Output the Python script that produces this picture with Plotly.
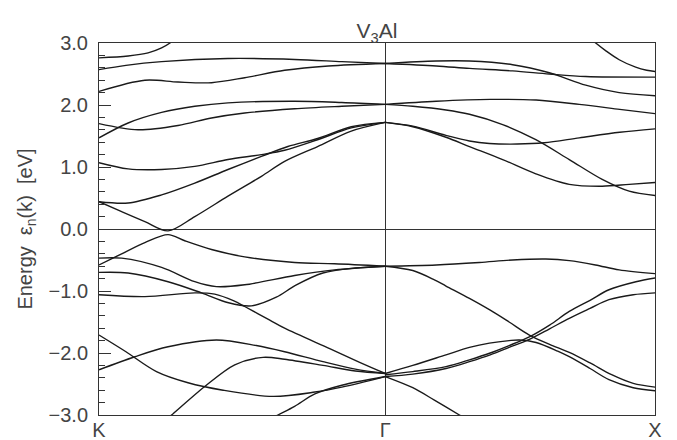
import plotly.graph_objects as go

# High-symmetry points (path length units)
k_points = [0.0, 1.0607, 2.0607]
k_labels = ["K", "Γ", "X"]

# ---- Bands, K -> Γ segment ----
L1_k = [0, 0.108, 0.182, 0.232, 0.263, 0.285]
L1_E = [2.76, 2.79, 2.84, 2.92, 3.0, 3.08]
L2_k = [0, 0.10, 0.232, 0.478, 0.725, 0.90, 1.061]
L2_E = [2.57, 2.64, 2.70, 2.75, 2.735, 2.70, 2.67]
L3_k = [0, 0.170, 0.293, 0.417, 0.540, 0.688, 0.85, 1.061]
L3_E = [2.22, 2.40, 2.37, 2.36, 2.44, 2.56, 2.63, 2.67]
L4_k = [0, 0.108, 0.232, 0.355, 0.478, 0.725, 0.90, 1.061]
L4_E = [1.47, 1.71, 1.88, 1.98, 2.035, 2.06, 2.04, 2.01]
L5_k = [0, 0.145, 0.293, 0.417, 0.540, 0.725, 0.90, 1.061]
L5_E = [1.70, 1.60, 1.67, 1.79, 1.87, 1.94, 1.98, 2.01]
L6_k = [0, 0.108, 0.232, 0.355, 0.478, 0.602, 0.688, 0.81, 0.935, 1.061]
L6_E = [1.07, 0.97, 0.96, 1.01, 1.12, 1.20, 1.27, 1.44, 1.63, 1.72]
L7_k = [0, 0.108, 0.232, 0.355, 0.478, 0.602, 0.70, 0.81, 0.935, 1.061]
L7_E = [0.44, 0.42, 0.55, 0.74, 0.96, 1.17, 1.33, 1.46, 1.65, 1.72]
L8_k = [0, 0.084, 0.170, 0.256, 0.355, 0.478, 0.602, 0.688, 0.81, 0.935, 1.061]
L8_E = [0.44, 0.28, 0.12, -0.03, 0.20, 0.53, 0.85, 1.09, 1.33, 1.58, 1.72]
La_k = [0, 0.084, 0.170, 0.256, 0.318, 0.417, 0.540, 0.725, 0.873, 1.061]
La_E = [-0.58, -0.40, -0.22, -0.09, -0.19, -0.33, -0.45, -0.54, -0.56, -0.60]
Lb_k = [0, 0.084, 0.232, 0.355, 0.435, 0.540, 0.725, 0.873, 1.061]
Lb_E = [-0.47, -0.47, -0.62, -0.85, -0.93, -0.90, -0.75, -0.66, -0.60]
Lc_k = [0, 0.108, 0.256, 0.380, 0.48, 0.565, 0.657, 0.728, 0.830, 0.95, 1.061]
Lc_E = [-0.70, -0.71, -0.85, -1.03, -1.19, -1.24, -1.10, -0.91, -0.71, -0.63, -0.60]
Ld_k = [0, 0.170, 0.355, 0.429, 0.50, 0.540, 0.633, 0.688, 0.855, 0.966, 1.061]
Ld_E = [-1.06, -1.09, -1.03, -1.05, -1.16, -1.25, -1.47, -1.60, -1.93, -2.15, -2.33]
Le_k = [0, 0.1, 0.213, 0.33, 0.46, 0.645, 0.80, 0.90, 1.061]
Le_E = [-1.71, -1.98, -2.30, -2.48, -2.60, -2.70, -2.63, -2.55, -2.38]
Lf_k = [0.62, 0.663, 0.725, 0.80, 0.90, 1.061]
Lf_E = [-3.10, -3.0, -2.86, -2.66, -2.52, -2.38]
Lg_k = [0, 0.133, 0.256, 0.435, 0.583, 0.688, 0.83, 0.95, 1.061]
Lg_E = [-2.27, -2.06, -1.90, -1.79, -1.88, -1.98, -2.14, -2.26, -2.33]
Lh_k = [0.245, 0.269, 0.392, 0.503, 0.608, 0.688, 0.83, 0.95, 1.061]
Lh_E = [-3.09, -3.0, -2.54, -2.19, -2.07, -2.10, -2.20, -2.29, -2.33]

# ---- Bands, Γ -> X segment ----
RA_k = [1.061, 1.25, 1.373, 1.533, 1.669, 1.804, 1.928, 2.061]
RA_E = [2.67, 2.71, 2.71, 2.65, 2.52, 2.32, 2.20, 2.15]
RB_k = [1.061, 1.25, 1.373, 1.533, 1.669, 1.804, 2.061]
RB_E = [2.67, 2.63, 2.59, 2.55, 2.50, 2.46, 2.45]
RC_k = [1.825, 1.841, 1.88, 1.928, 1.989, 2.03, 2.061]
RC_E = [3.06, 3.0, 2.87, 2.73, 2.61, 2.56, 2.54]
RD_k = [1.061, 1.25, 1.45, 1.62, 1.78, 1.93, 2.061]
RD_E = [2.01, 2.06, 2.09, 2.08, 2.01, 1.93, 1.86]
RE_k = [1.061, 1.163, 1.286, 1.373, 1.496, 1.619, 1.743, 1.865, 1.965, 2.061]
RE_E = [2.01, 1.98, 1.92, 1.85, 1.685, 1.44, 1.12, 0.80, 0.61, 0.54]
RP_k = [1.061, 1.163, 1.286, 1.373, 1.447, 1.55, 1.65, 1.78, 1.93, 2.061]
RP_E = [1.72, 1.66, 1.51, 1.42, 1.38, 1.37, 1.39, 1.47, 1.56, 1.615]
RQ_k = [1.061, 1.163, 1.286, 1.373, 1.496, 1.619, 1.743, 1.865, 1.965, 2.061]
RQ_E = [1.72, 1.65, 1.48, 1.33, 1.12, 0.89, 0.72, 0.69, 0.72, 0.75]
RF_k = [1.061, 1.25, 1.41, 1.533, 1.656, 1.743, 1.84, 1.928, 2.061]
RF_E = [-0.60, -0.58, -0.54, -0.50, -0.485, -0.51, -0.58, -0.66, -0.72]
RG_k = [1.061, 1.163, 1.243, 1.286, 1.373, 1.45, 1.52, 1.595, 1.67, 1.743, 1.82, 1.90, 1.98, 2.061]
RG_E = [-0.60, -0.67, -0.82, -0.92, -1.12, -1.31, -1.50, -1.71, -1.86, -1.99, -2.16, -2.35, -2.49, -2.55]
R1_k = [1.061, 1.163, 1.286, 1.373, 1.447, 1.52, 1.558, 1.62, 1.70, 1.743, 1.82, 1.89, 1.98, 2.061]
R1_E = [-2.33, -2.20, -2.03, -1.91, -1.84, -1.80, -1.79, -1.83, -1.97, -2.06, -2.25, -2.43, -2.56, -2.61]
R2_k = [1.061, 1.163, 1.286, 1.373, 1.45, 1.52, 1.595, 1.67, 1.743, 1.82, 1.89, 1.99, 2.061]
R2_E = [-2.35, -2.30, -2.22, -2.11, -2.00, -1.88, -1.74, -1.55, -1.33, -1.15, -0.98, -0.85, -0.79]
R3_k = [1.061, 1.163, 1.286, 1.373, 1.45, 1.52, 1.595, 1.67, 1.743, 1.82, 1.89, 1.98, 2.061]
R3_E = [-2.38, -2.34, -2.25, -2.14, -2.03, -1.91, -1.78, -1.61, -1.44, -1.28, -1.14, -1.06, -1.03]
R4_k = [1.061, 1.163, 1.243, 1.336, 1.36]
R4_E = [-2.38, -2.56, -2.76, -3.0, -3.06]

bands = [
    (L1_k, L1_E), (L2_k, L2_E), (L3_k, L3_E), (L4_k, L4_E), (L5_k, L5_E),
    (L6_k, L6_E), (L7_k, L7_E), (L8_k, L8_E), (La_k, La_E), (Lb_k, Lb_E),
    (Lc_k, Lc_E), (Ld_k, Ld_E), (Le_k, Le_E), (Lf_k, Lf_E), (Lg_k, Lg_E),
    (Lh_k, Lh_E),
    (RA_k, RA_E), (RB_k, RB_E), (RC_k, RC_E), (RD_k, RD_E), (RE_k, RE_E),
    (RP_k, RP_E), (RQ_k, RQ_E), (RF_k, RF_E), (RG_k, RG_E), (R1_k, R1_E),
    (R2_k, R2_E), (R3_k, R3_E), (R4_k, R4_E),
]

fig = go.Figure()
for kk, ee in bands:
    fig.add_trace(go.Scatter(
        x=kk, y=ee, mode="lines",
        line=dict(color="#1a1a1a", width=1.4, shape="spline", smoothing=0.9),
        hoverinfo="skip", showlegend=False,
    ))

font_fam = "Liberation Sans, Arial, Helvetica, sans-serif"
text_col = "#444444"
axis_col = "#333333"

# page body has an 8px default margin; size/margins compensate for it
fig.update_layout(
    width=669, height=432,
    margin=dict(l=91, r=22, t=35, b=25),
    paper_bgcolor="white", plot_bgcolor="white",
    font=dict(family=font_fam, size=20, color=text_col),
    title=dict(text="V<sub>3</sub>Al", x=0.5, xref="paper",
               y=1 - 23 / 432, yref="container", yanchor="middle",
               font=dict(size=21, color=text_col)),
    showlegend=False,
)
fig.update_xaxes(
    range=[k_points[0], k_points[-1]],
    tickmode="array", tickvals=k_points, ticktext=k_labels,
    ticks="", showgrid=True, gridcolor=axis_col, gridwidth=1,
    showline=True, linecolor=axis_col, linewidth=1, mirror=True,
    zeroline=False, automargin=False, ticklabelstandoff=-3,
    tickfont=dict(size=20, color=text_col),
)
fig.update_yaxes(
    range=[-3, 3], dtick=1, tick0=0, tickformat=".1f",
    ticks="inside", ticklen=12, tickcolor=axis_col, tickwidth=1,
    minor=dict(dtick=0.2, ticks="inside", ticklen=6, tickcolor=axis_col, tickwidth=1),
    showgrid=False, zeroline=True, zerolinecolor=axis_col, zerolinewidth=1,
    showline=True, linecolor=axis_col, linewidth=1, mirror=True,
    automargin=False, ticklabelstandoff=6,
    tickfont=dict(size=20, color=text_col),
    title=dict(text="Energy  ε<sub>n</sub>(k)  [eV]", standoff=10,
               font=dict(size=20, color=text_col)),
)

fig.write_html("out.html")
